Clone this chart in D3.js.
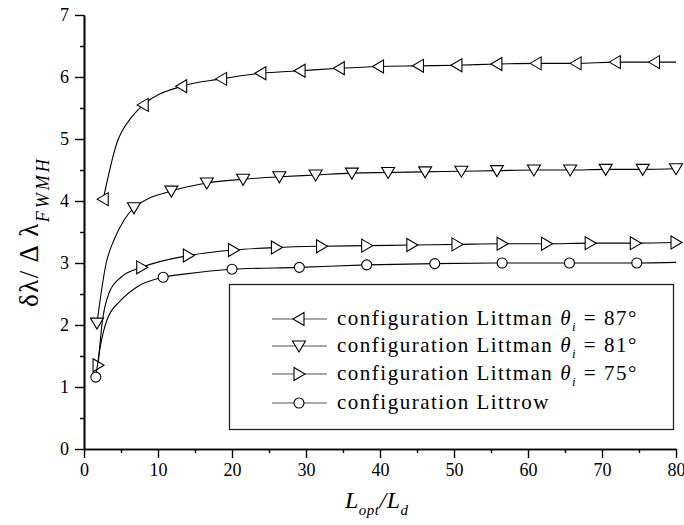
<!DOCTYPE html>
<html>
<head>
<meta charset="utf-8">
<script src="https://cdn.jsdelivr.net/npm/d3@7"></script>
<style>
  body { margin: 0; background: #fff; }
  svg { display: block; font-family: "Liberation Serif", "Times New Roman", serif; }
</style>
</head>
<body>
<script>
// Littman 87 deg (left triangles)
var lit87X = [2.6, 4.45, 6.35, 8.0, 13.2, 18.6, 23.9, 29.2, 34.5, 39.8, 45.2, 50.4, 55.8, 61.1, 66.5, 71.8, 77.1, 80];
var lit87Y = [4.03, 4.94, 5.34, 5.55, 5.85, 5.97, 6.06, 6.10, 6.14, 6.17, 6.18, 6.19, 6.21, 6.22, 6.22, 6.24, 6.24, 6.24];
var lit87Marks = [0, 3, 4, 5, 6, 7, 8, 9, 10, 11, 12, 13, 14, 15, 16];

// Littman 81 deg (down triangles)
var lit81X = [1.75, 3.0, 4.05, 5.4, 6.75, 11.8, 16.6, 21.5, 26.4, 31.3, 36.2, 41.1, 46.1, 51.0, 55.8, 60.8, 65.7, 70.5, 75.5, 80];
var lit81Y = [2.03, 3.0, 3.37, 3.69, 3.89, 4.16, 4.29, 4.35, 4.39, 4.42, 4.45, 4.46, 4.47, 4.48, 4.49, 4.50, 4.50, 4.51, 4.51, 4.52];
var lit81Marks = [0, 4, 5, 6, 7, 8, 9, 10, 11, 12, 13, 14, 15, 16, 17, 18, 19];

// Littman 75 deg (right triangles)
var lit75X = [1.9, 2.45, 3.4, 5.0, 7.8, 14.1, 20.2, 26.0, 32.1, 38.2, 44.3, 50.4, 56.5, 62.5, 68.4, 74.5, 80];
var lit75Y = [1.35, 2.03, 2.52, 2.77, 2.93, 3.12, 3.21, 3.25, 3.27, 3.28, 3.29, 3.30, 3.31, 3.31, 3.32, 3.32, 3.33];
var lit75Marks = [0, 4, 5, 6, 7, 8, 9, 10, 11, 12, 13, 14, 15, 16];

// Littrow (circles)
var litrX = [1.6, 2.2, 3.1, 5.0, 7.1, 10.7, 13.5, 20.0, 29.1, 38.2, 47.4, 56.5, 65.6, 74.7, 80];
var litrY = [1.16, 1.65, 2.08, 2.40, 2.61, 2.77, 2.82, 2.90, 2.93, 2.97, 2.99, 3.0, 3.0, 3.0, 3.01];
var litrMarks = [0, 5, 7, 8, 9, 10, 11, 12, 13];

var xTicks = [0, 10, 20, 30, 40, 50, 60, 70, 80];
var yTicks = [0, 1, 2, 3, 4, 5, 6, 7];
var legendAngles = ['87°', '81°', '75°'];

var W = 684, H = 525;
var x0 = 84, x1 = 676, y0 = 449, y1 = 15;
var serif = '"Liberation Serif", "Times New Roman", serif';

var svg = d3.select('body').append('svg')
    .attr('width', W)
    .attr('height', H);

var x = d3.scaleLinear().domain([0, 80]).range([x0, x1]);
var y = d3.scaleLinear().domain([0, 7]).range([y0, y1]);

// axes, major + minor ticks
svg.append('g')
    .attr('transform', 'translate(0,' + y0 + ')')
    .call(d3.axisBottom(x).tickValues(xTicks).tickFormat(d3.format('d'))
        .tickSize(9).tickPadding(5).tickSizeOuter(0));
svg.append('g')
    .attr('transform', 'translate(0,' + y0 + ')')
    .call(d3.axisBottom(x).tickValues(d3.range(5, 80, 10)).tickSize(4).tickFormat('').tickSizeOuter(0));

svg.append('g')
    .attr('transform', 'translate(' + x0 + ',0)')
    .call(d3.axisLeft(y).tickValues(yTicks).tickFormat(d3.format('d'))
        .tickSize(9).tickPadding(6).tickSizeOuter(0));
svg.append('g')
    .attr('transform', 'translate(' + x0 + ',0)')
    .call(d3.axisLeft(y).tickValues(d3.range(0.5, 7, 1)).tickSize(4).tickFormat('').tickSizeOuter(0));

svg.selectAll('g').attr('font-family', serif);
svg.selectAll('.domain').attr('stroke', '#000').attr('stroke-width', 1.6);
svg.selectAll('.tick line').attr('stroke', '#000').attr('stroke-width', 1.4);
svg.selectAll('.tick text')
    .attr('fill', '#000')
    .style('font-size', '18px');

// marker shapes
function markerPath(kind) {
    if (kind === 'left') return 'M-6,0L5,-6.5L5,6.5Z';
    if (kind === 'down') return 'M-6.5,-5L6.5,-5L0,6Z';
    if (kind === 'right') return 'M6,0L-5,-6.5L-5,6.5Z';
    return d3.symbol().type(d3.symbolCircle).size(Math.PI * 25)();
}

var series = [
    { xs: lit87X, ys: lit87Y, marks: lit87Marks, kind: 'left' },
    { xs: lit81X, ys: lit81Y, marks: lit81Marks, kind: 'down' },
    { xs: lit75X, ys: lit75Y, marks: lit75Marks, kind: 'right' },
    { xs: litrX, ys: litrY, marks: litrMarks, kind: 'circle' }
];

var line = d3.line()
    .x(function(d) { return x(d[0]); })
    .y(function(d) { return y(d[1]); })
    .curve(d3.curveMonotoneX);

series.forEach(function(s) {
    var pts = s.xs.map(function(v, i) { return [v, s.ys[i]]; });
    svg.append('path')
        .datum(pts)
        .attr('d', line)
        .attr('fill', 'none')
        .attr('stroke', '#000')
        .attr('stroke-width', 1.1);
    svg.selectAll(null)
        .data(s.marks.map(function(i) { return pts[i]; }))
        .enter()
        .append('path')
        .attr('d', markerPath(s.kind))
        .attr('transform', function(d) { return 'translate(' + x(d[0]) + ',' + y(d[1]) + ')'; })
        .attr('fill', '#fff')
        .attr('stroke', '#000')
        .attr('stroke-width', 1.1);
});

// legend
var lg = svg.append('g');
lg.append('rect')
    .attr('x', 229.5).attr('y', 284.5)
    .attr('width', 444).attr('height', 145)
    .attr('fill', '#fff')
    .attr('stroke', '#222')
    .attr('stroke-width', 1.3);

var rowY = [319, 346, 374, 403];
series.forEach(function(s, i) {
    var yy = rowY[i];
    lg.append('line')
        .attr('x1', 272).attr('x2', 327)
        .attr('y1', yy).attr('y2', yy)
        .attr('stroke', '#555').attr('stroke-width', 1.2);
    lg.append('path')
        .attr('d', markerPath(s.kind))
        .attr('transform', 'translate(299,' + yy + ')')
        .attr('fill', '#fff').attr('stroke', '#000').attr('stroke-width', 1.1);
    var t = lg.append('text')
        .attr('x', 337).attr('y', yy + 6)
        .style('font-size', '21px')
        .style('letter-spacing', '1.5px')
        .attr('fill', '#000');
    if (i < 3) {
        t.append('tspan').text('configuration Littman ');
        t.append('tspan').style('font-style', 'italic').text('θ');
        t.append('tspan').style('font-style', 'italic').style('font-size', '13px').attr('dy', 6).text('i');
        t.append('tspan').attr('dy', -6).text(' = ' + legendAngles[i]);
    } else {
        t.append('tspan').text('configuration Littrow');
    }
});

// axis titles
var xt = svg.append('text')
    .attr('x', 345).attr('y', 508)
    .style('font-style', 'italic')
    .style('font-size', '24px')
    .style('letter-spacing', '0.5px');
xt.append('tspan').text('L');
xt.append('tspan').style('font-size', '15px').attr('dy', 7).text('opt');
xt.append('tspan').attr('dy', -7).text('/L');
xt.append('tspan').style('font-size', '15px').attr('dy', 7).text('d');

var yt = svg.append('text')
    .attr('transform', 'translate(38,307) rotate(-90)')
    .style('font-size', '27px')
    .style('letter-spacing', '1.5px');
yt.append('tspan').text('δλ/ Δ λ');
yt.append('tspan').style('font-style', 'italic').style('font-size', '18px')
    .style('letter-spacing', '3px').attr('dy', 11).text('FWMH');
</script>
</body>
</html>
